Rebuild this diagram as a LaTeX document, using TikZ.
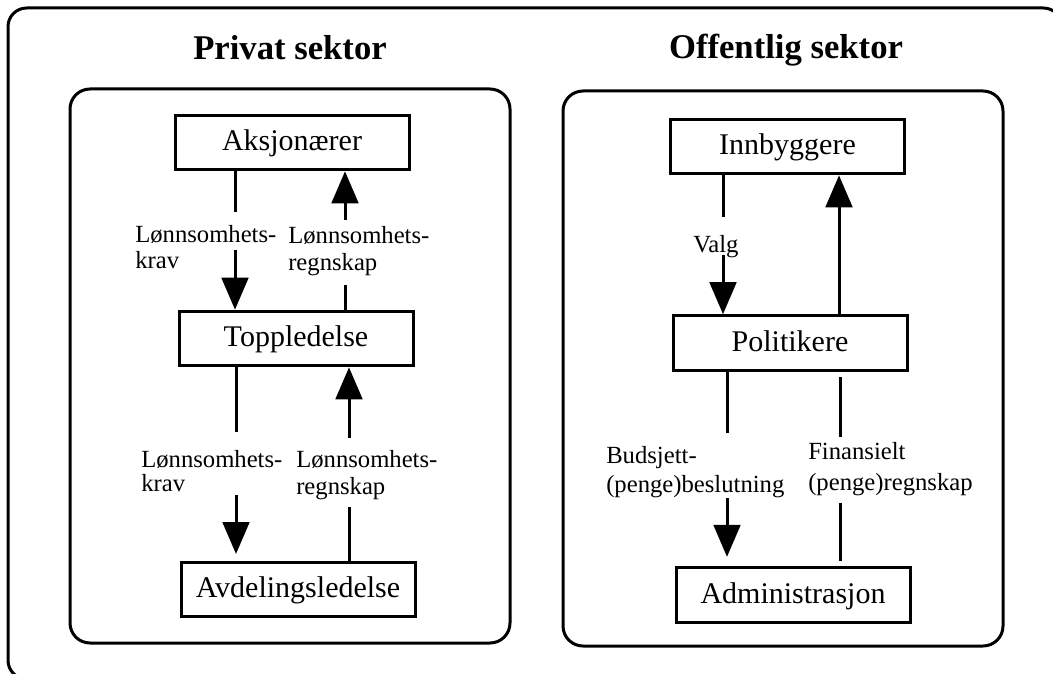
\documentclass[tikz,border=0pt]{standalone}
\usepackage{fontspec}
\setmainfont{Liberation Serif}
\usetikzlibrary{arrows.meta}

\begin{document}
\begin{tikzpicture}[x=0.75pt,y=-0.75pt,
  every node/.style={inner sep=0pt},
  frame/.style={draw, line width=2.25pt, rounded corners=15pt},
  box/.style={draw, line width=2.25pt, minimum width=175.5pt, minimum height=41pt,
    font=\fontsize{22.5}{26}\selectfont, text height=16.5pt, text depth=4.5pt},
  title/.style={font=\bfseries\fontsize{26}{30}\selectfont, anchor=base},
  lbl/.style={font=\fontsize{18.5}{22}\selectfont, anchor=base west},
  conn/.style={line width=2.25pt},
  arr/.style={line width=2.25pt, -{Triangle[length=24pt,width=20pt]}}]

\useasboundingbox (0,0) rectangle (1053,674);
\clip (0,0) rectangle (1053,674);

% outer frame and the two sector panels
\draw[frame, rounded corners=14pt] (8,8) rectangle (1062,679);
\draw[frame] (70,89) rectangle (510,643);
\draw[frame] (563,91) rectangle (1003,646);

% headings
\node[title] (tpriv) at (290,60) {Privat sektor};
\node[title] (toff) at (786,59) {Offentlig sektor};

% private sector
\node[box] (aks) at (292,142.5) {Aksjonærer};
\node[box] (top) at (296,338.5) {Toppledelse};
\node[box] (avd) at (298,589.5) {Avdelingsledelse};

\node[lbl] (l1a) at (135,242) {Lønnsomhets-};
\node[lbl] (l1b) at (135,268) {krav};
\node[lbl] (l2a) at (288,243) {Lønnsomhets-};
\node[lbl] (l2b) at (288,270) {regnskap};
\node[lbl] (l3a) at (141,467) {Lønnsomhets-};
\node[lbl] (l3b) at (141,491) {krav};
\node[lbl] (l4a) at (296,467) {Lønnsomhets-};
\node[lbl] (l4b) at (296,494) {regnskap};

\coordinate (c1a) at (235,212); \coordinate (c1b) at (235,250);
\coordinate (c2a) at (345,285); \coordinate (c2b) at (345,220);
\coordinate (c3a) at (236,432); \coordinate (c3b) at (236,495);
\coordinate (c4a) at (349,507); \coordinate (c4b) at (349,438);

\draw[conn] (aks.south -| c1a) -- (c1a);
\draw[arr] (c1b) -- (top.north -| c1b);
\draw[conn] (top.north -| c2a) -- (c2a);
\draw[arr] (c2b) -- (aks.south -| c2b);
\draw[conn] (top.south -| c3a) -- (c3a);
\draw[arr, shorten >=5pt] (c3b) -- (avd.north -| c3b);
\draw[conn] (avd.north -| c4a) -- (c4a);
\draw[arr] (c4b) -- (top.south -| c4b);

% public sector
\node[box] (inn) at (787.5,146.5) {Innbyggere};
\node[box] (pol) at (790,343) {Politikere};
\node[box] (adm) at (793,595) {Administrasjon};

\node[lbl] (lv) at (693,252) {Valg};
\node[lbl] (l5a) at (606,463) {Budsjett-};
\node[lbl] (l5b) at (606,492) {(penge)beslutning};
\node[lbl] (l6a) at (808,459) {Finansielt};
\node[lbl] (l6b) at (808,490) {(penge)regnskap};

\coordinate (c5a) at (723,217); \coordinate (c5b) at (723,255);
\coordinate (c6) at (839,0);
\coordinate (c7a) at (727,433); \coordinate (c7b) at (727,498);
\coordinate (c8a) at (840,437); \coordinate (c8b) at (840,503);

\draw[conn] (inn.south -| c5a) -- (c5a);
\draw[arr] (c5b) -- (pol.north -| c5b);
\draw[arr] (pol.north -| c6) -- (inn.south -| c6);
\draw[conn] (pol.south -| c7a) -- (c7a);
\draw[arr, shorten >=7pt] (c7b) -- (adm.north -| c7b);
\draw[conn, shorten <=4pt] (pol.south -| c8a) -- (c8a);
\draw[conn, shorten >=4pt] (c8b) -- (adm.north -| c8b);

\end{tikzpicture}
\end{document}
